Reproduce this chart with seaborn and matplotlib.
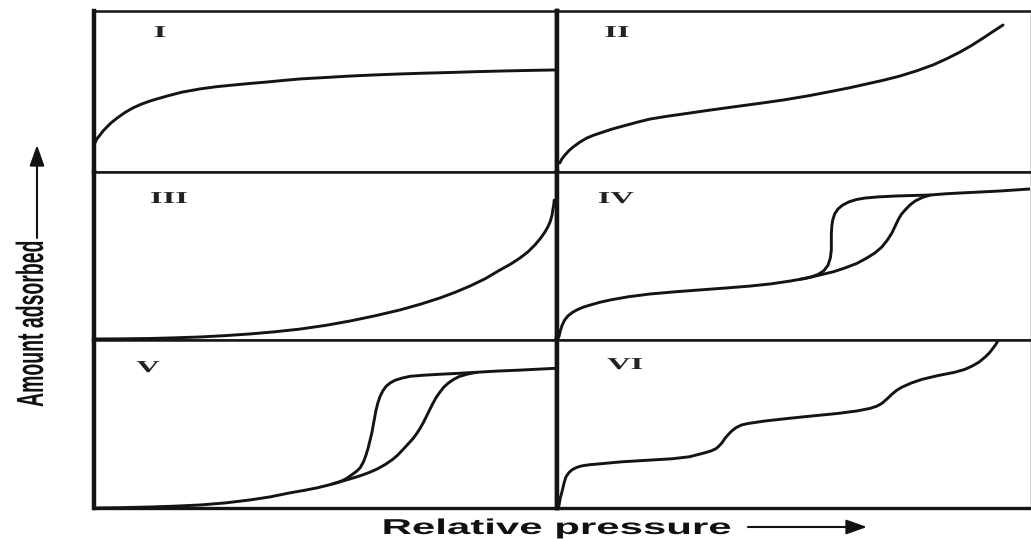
import numpy as np
import pandas as pd
import matplotlib
matplotlib.use("Agg")
import matplotlib.pyplot as plt
import seaborn as sns
from matplotlib.patches import FancyArrowPatch
from matplotlib.patheffects import AbstractPathEffect
from matplotlib.transforms import Affine2D

# ---------------------------------------------------------------------------
# IUPAC adsorption isotherm types I-VI (relative pressure vs amount adsorbed,
# both on a 0-1 scale within each panel)
# ---------------------------------------------------------------------------
panel_labels = ["I", "II", "III", "IV", "V", "VI"]
x_label = "Relative pressure"
y_label = "Amount adsorbed"

# Type I
t1_x = [0.002, 0.006, 0.013, 0.020, 0.028, 0.038, 0.050, 0.066, 0.084, 0.102,
        0.121, 0.140, 0.158, 0.190, 0.229, 0.265, 0.300, 0.337, 0.374, 0.410,
        0.445, 0.500, 0.553, 0.607, 0.661, 0.715, 0.769, 0.823, 0.877, 0.940,
        1.0]
t1_y = [0.180, 0.205, 0.230, 0.256, 0.280, 0.308, 0.335, 0.368, 0.398, 0.421,
        0.441, 0.457, 0.472, 0.496, 0.516, 0.530, 0.540, 0.550, 0.559, 0.569,
        0.578, 0.587, 0.596, 0.603, 0.609, 0.614, 0.618, 0.623, 0.627, 0.631,
        0.634]

# Type II
t2_x = [0.006, 0.010, 0.017, 0.025, 0.034, 0.048, 0.063, 0.077, 0.091, 0.118,
        0.148, 0.172, 0.197, 0.230, 0.266, 0.320, 0.372, 0.425, 0.478, 0.531,
        0.584, 0.620, 0.655, 0.690, 0.725, 0.760, 0.795, 0.825, 0.852, 0.877,
        0.901, 0.922, 0.943]
t2_y = [0.056, 0.080, 0.106, 0.132, 0.155, 0.185, 0.211, 0.228, 0.242, 0.268,
        0.292, 0.311, 0.329, 0.345, 0.360, 0.383, 0.404, 0.425, 0.447, 0.473,
        0.503, 0.524, 0.547, 0.570, 0.596, 0.628, 0.665, 0.705, 0.745, 0.787,
        0.832, 0.873, 0.913]

# Type III
t3_x = [0.002, 0.060, 0.121, 0.175, 0.229, 0.283, 0.337, 0.391, 0.445, 0.500,
        0.553, 0.607, 0.661, 0.705, 0.747, 0.780, 0.812, 0.845, 0.877, 0.900,
        0.920, 0.937, 0.952, 0.964, 0.974, 0.980, 0.985, 0.989, 0.991, 0.993,
        0.994]
t3_y = [0.006, 0.007, 0.009, 0.013, 0.018, 0.026, 0.036, 0.049, 0.065, 0.087,
        0.113, 0.144, 0.179, 0.213, 0.250, 0.284, 0.321, 0.365, 0.417, 0.452,
        0.488, 0.524, 0.565, 0.604, 0.643, 0.672, 0.702, 0.740, 0.774, 0.805,
        0.833]

# Type IV: adsorption and desorption branches
t4_ads_x = [0.004, 0.007, 0.011, 0.016, 0.023, 0.032, 0.042, 0.055, 0.070, 0.090,
            0.112, 0.150, 0.197, 0.250, 0.302, 0.355, 0.408, 0.452, 0.493, 0.525,
            0.556, 0.584, 0.609, 0.634, 0.655, 0.672, 0.687, 0.699, 0.708, 0.715,
            0.721, 0.728, 0.736, 0.746, 0.757, 0.772, 0.789, 0.820, 0.852, 0.895,
            0.937, 1.0]
t4_ads_y = [0.018, 0.055, 0.089, 0.118, 0.143, 0.163, 0.179, 0.195, 0.208, 0.224,
            0.238, 0.257, 0.274, 0.287, 0.298, 0.309, 0.321, 0.334, 0.351, 0.367,
            0.387, 0.406, 0.429, 0.456, 0.488, 0.518, 0.554, 0.597, 0.637, 0.678,
            0.714, 0.748, 0.774, 0.803, 0.827, 0.848, 0.863, 0.870, 0.875, 0.881,
            0.887, 0.899]
t4_des_x = [0.515, 0.535, 0.552, 0.564, 0.573, 0.578, 0.580, 0.580, 0.580, 0.581,
            0.583, 0.587, 0.594, 0.604, 0.617, 0.633, 0.651, 0.680, 0.715, 0.750,
            0.789]
t4_des_y = [0.362, 0.373, 0.390, 0.412, 0.445, 0.490, 0.536, 0.585, 0.630, 0.679,
            0.715, 0.750, 0.780, 0.803, 0.822, 0.836, 0.845, 0.852, 0.857, 0.860,
            0.863]

# Type V: adsorption and desorption branches
t5_ads_x = [0.002, 0.060, 0.121, 0.175, 0.229, 0.283, 0.337, 0.380, 0.423, 0.452,
            0.482, 0.507, 0.531, 0.553, 0.575, 0.595, 0.613, 0.629, 0.644, 0.656,
            0.667, 0.678, 0.689, 0.697, 0.704, 0.712, 0.719, 0.726, 0.732, 0.739,
            0.747, 0.755, 0.765, 0.777, 0.790, 0.808, 0.827, 0.870, 0.914, 0.957,
            1.0]
t5_ads_y = [0.000, 0.002, 0.006, 0.011, 0.018, 0.030, 0.048, 0.066, 0.090, 0.104,
            0.120, 0.137, 0.156, 0.173, 0.192, 0.212, 0.234, 0.259, 0.287, 0.315,
            0.347, 0.380, 0.413, 0.443, 0.473, 0.512, 0.551, 0.590, 0.623, 0.658,
            0.689, 0.718, 0.743, 0.766, 0.784, 0.798, 0.808, 0.815, 0.820, 0.826,
            0.832]
t5_des_x = [0.515, 0.531, 0.545, 0.557, 0.567, 0.575, 0.582, 0.587, 0.592, 0.596,
            0.600, 0.603, 0.606, 0.609, 0.613, 0.618, 0.624, 0.631, 0.640, 0.650,
            0.665, 0.683, 0.715, 0.747, 0.790, 0.827]
t5_des_y = [0.143, 0.156, 0.175, 0.198, 0.218, 0.240, 0.275, 0.311, 0.356, 0.401,
            0.446, 0.491, 0.536, 0.581, 0.625, 0.665, 0.698, 0.725, 0.745, 0.760,
            0.773, 0.784, 0.791, 0.796, 0.802, 0.808]

# Type VI: stepwise multilayer adsorption
t6_x = [0.004, 0.007, 0.011, 0.015, 0.019, 0.025, 0.032, 0.042, 0.053, 0.070,
        0.091, 0.137, 0.190, 0.243, 0.280, 0.313, 0.326, 0.336, 0.343, 0.349,
        0.355, 0.362, 0.370, 0.379, 0.390, 0.404, 0.440, 0.488, 0.540, 0.594,
        0.635, 0.662, 0.676, 0.687, 0.698, 0.708, 0.718, 0.729, 0.750, 0.772,
        0.805, 0.841, 0.862, 0.877, 0.892, 0.905, 0.915, 0.922, 0.928, 0.932]
t6_y = [0.012, 0.060, 0.102, 0.150, 0.186, 0.210, 0.228, 0.242, 0.251, 0.258,
        0.263, 0.275, 0.284, 0.293, 0.305, 0.329, 0.340, 0.353, 0.370, 0.389,
        0.414, 0.437, 0.460, 0.479, 0.494, 0.503, 0.518, 0.533, 0.548, 0.563,
        0.578, 0.593, 0.606, 0.623, 0.650, 0.677, 0.700, 0.719, 0.745, 0.766,
        0.788, 0.808, 0.825, 0.844, 0.868, 0.898, 0.926, 0.952, 0.975, 0.994]

curves = [
    (0, "adsorption", t1_x, t1_y),
    (1, "adsorption", t2_x, t2_y),
    (2, "adsorption", t3_x, t3_y),
    (3, "adsorption", t4_ads_x, t4_ads_y),
    (3, "desorption", t4_des_x, t4_des_y),
    (4, "adsorption", t5_ads_x, t5_ads_y),
    (4, "desorption", t5_des_x, t5_des_y),
    (5, "adsorption", t6_x, t6_y),
]
df = pd.concat(
    [pd.DataFrame({"panel": p, "branch": b, "p_rel": xs, "amount": ys})
     for p, b, xs, ys in curves],
    ignore_index=True,
)


class GlyphScale(AbstractPathEffect):
    """Scale glyph outlines in their own frame (about the ink centre / baseline)."""

    def __init__(self, sx=1.0, sy=1.0):
        super().__init__((0.0, 0.0))
        self.sx, self.sy = sx, sy

    def draw_path(self, renderer, gc, tpath, affine, rgbFace=None):
        ext = tpath.get_extents()
        cx = 0.5 * (ext.x0 + ext.x1)
        glyph = Affine2D().translate(-cx, 0).scale(self.sx, self.sy).translate(cx, 0)
        renderer.draw_path(gc, tpath, glyph + affine, rgbFace)


W, H, DPI = 1031, 539, 100
STRETCH = 1.95
INK = "#141414"


def fpos(x, y):
    """Pixel position (from top-left) to figure fraction."""
    return x / W, 1.0 - y / H


sns.set_theme(style="white")
plt.rcParams["font.family"] = ["Liberation Sans", "DejaVu Sans"]

fig = plt.figure(figsize=(W / DPI, H / DPI), dpi=DPI)
gs = fig.add_gridspec(
    3, 2, width_ratios=[463, 473], height_ratios=[161, 168, 168],
    left=94 / W, right=1030 / W, top=1 - 11 / H, bottom=1 - 508 / H,
    wspace=0, hspace=0,
)

for i in range(6):
    r, c = divmod(i, 2)
    ax = fig.add_subplot(gs[r, c])
    sub = df[df["panel"] == i]
    sns.lineplot(data=sub, x="p_rel", y="amount", units="branch",
                 estimator=None, sort=False, color=INK, lw=2.1,
                 solid_joinstyle="round", solid_capstyle="round",
                 legend=False, ax=ax)
    ax.set_xlim(0, 1)
    ax.set_ylim(0, 1)
    ax.set(xlabel="", ylabel="", xticks=[], yticks=[])
    ax.set_facecolor("white")

    for side in ("top", "bottom"):
        ax.spines[side].set_linewidth(1.8)
        ax.spines[side].set_color(INK)
    if r == 2:
        ax.spines["bottom"].set_linewidth(2.4)
    ax.spines["left"].set_linewidth(3.2)
    ax.spines["left"].set_color(INK)
    if c == 0:
        ax.spines["right"].set_linewidth(3.2)
        ax.spines["right"].set_color(INK)
    else:
        ax.spines["right"].set_linewidth(0.6)
        ax.spines["right"].set_color("#cfcfcf")

# Roman numeral panel tags (centre x, baseline y in pixels)
tag_pos = [(160, 37), (617, 37), (169, 203), (616, 203), (148, 372), (625, 369)]
for lab, (px, py) in zip(panel_labels, tag_pos):
    fx, fy = fpos(px, py)
    fig.text(fx, fy, lab, ha="center", va="baseline", fontsize=12,
             fontfamily="Liberation Serif", fontweight="bold", color="#222222",
             path_effects=[GlyphScale(sx=STRETCH)])

# Axis titles
fx, fy = fpos(557, 534)
fig.text(fx, fy, x_label, ha="center", va="baseline", fontsize=15.5,
         fontweight="bold", color="#111111",
         path_effects=[GlyphScale(sx=STRETCH)])

fx, fy = fpos(43, 323.5)
fig.text(fx, fy, y_label, ha="center", va="baseline", rotation=90,
         rotation_mode="anchor", fontsize=14, fontweight="bold",
         color="#111111", path_effects=[GlyphScale(sy=STRETCH)])

# Direction arrows next to the axis titles
arrow_kw = dict(arrowstyle="-|>,head_length=0.9,head_width=0.32",
                color="#111111", lw=1.5, shrinkA=0, shrinkB=0)
fig.add_artist(FancyArrowPatch(
    fpos(748, 527), fpos(867, 527), transform=fig.transFigure,
    mutation_scale=14, **arrow_kw))
fig.add_artist(FancyArrowPatch(
    fpos(37, 238), fpos(37, 145), transform=fig.transFigure,
    mutation_scale=14, **arrow_kw))

fig.savefig("out.png", dpi=DPI, facecolor="white")
